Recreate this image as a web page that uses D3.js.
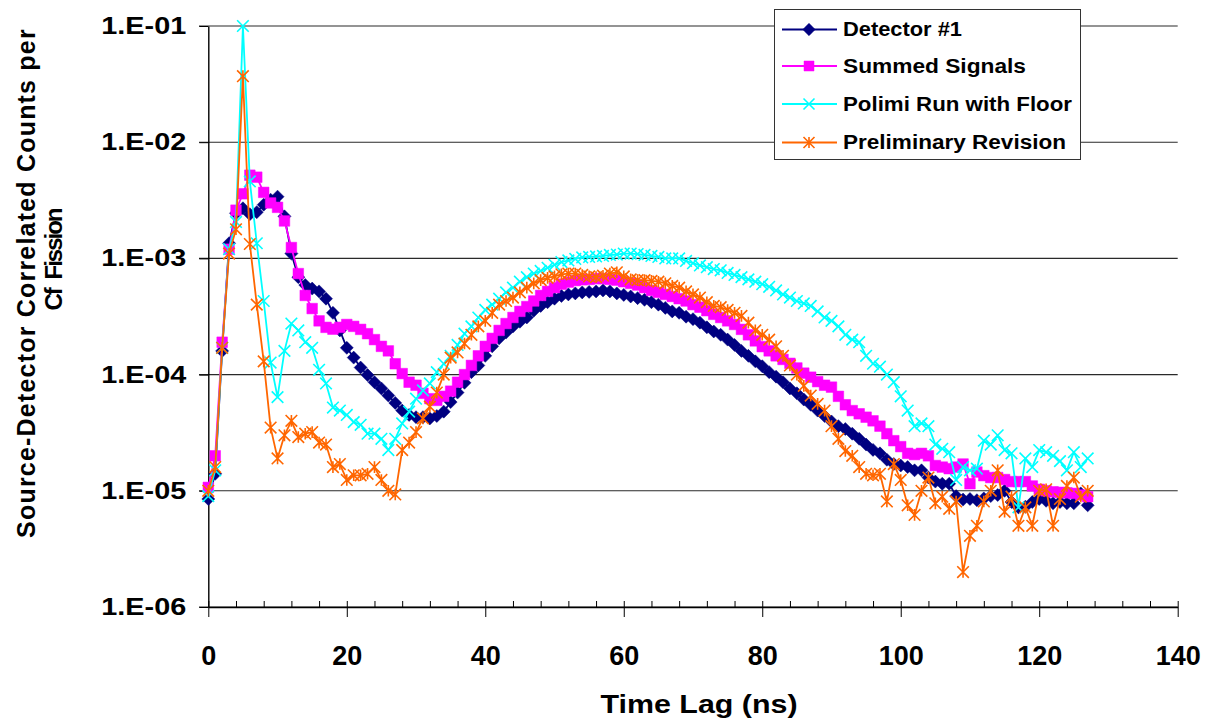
<!DOCTYPE html>
<html>
<head>
<meta charset="utf-8">
<script src="https://cdn.jsdelivr.net/npm/d3@7"></script>
<style>
  body { margin: 0; background: #fff; }
  svg { display: block; font-family: "Liberation Sans", Arial, sans-serif; font-weight: bold; }
</style>
</head>
<body>
<div id="chart"></div>
<script>
// Time lag (ns) for each bin
const timeLag = [
  0, 1, 2, 3, 4, 5, 6, 7, 8, 9, 10, 11, 12, 13, 14, 15, 16, 17, 18, 19,
  20, 21, 22, 23, 24, 25, 26, 27, 28, 29, 30, 31, 32, 33, 34, 35, 36, 37, 38, 39,
  40, 41, 42, 43, 44, 45, 46, 47, 48, 49, 50, 51, 52, 53, 54, 55, 56, 57, 58, 59,
  60, 61, 62, 63, 64, 65, 66, 67, 68, 69, 70, 71, 72, 73, 74, 75, 76, 77, 78, 79,
  80, 81, 82, 83, 84, 85, 86, 87, 88, 89, 90, 91, 92, 93, 94, 95, 96, 97, 98, 99,
  100, 101, 102, 103, 104, 105, 106, 107, 108, 109, 110, 111, 112, 113, 114, 115, 116, 117, 118, 119,
  120, 121, 122, 123, 124, 125, 126, 127
];

const detector1 = [
  8.5e-6, 1.4e-5, 1.6e-4, 1.35e-3, 2.45e-3, 2.7e-3, 2.4e-3, 2.5e-3, 2.9e-3, 3.2e-3,
  3.4e-3, 2.3e-3, 1.1e-3, 6.9e-4, 5.9e-4, 5.5e-4, 5.2e-4, 4.5e-4, 3.4e-4, 2.4e-4,
  1.7e-4, 1.4e-4, 1.15e-4, 9.9e-5, 8.6e-5, 7.6e-5, 6.6e-5, 5.7e-5, 4.9e-5, 4.5e-5,
  4.3e-5, 4.3e-5, 4.2e-5, 4.4e-5, 4.8e-5, 5.8e-5, 7.0e-5, 8.5e-5, 1.05e-4, 1.2e-4,
  1.45e-4, 1.75e-4, 2.05e-4, 2.3e-4, 2.6e-4, 2.85e-4, 3.1e-4, 3.55e-4, 3.9e-4, 4.2e-4,
  4.5e-4, 4.75e-4, 4.9e-4, 5.0e-4, 5.1e-4, 5.15e-4, 5.2e-4, 5.3e-4, 5.2e-4, 5.0e-4,
  4.85e-4, 4.7e-4, 4.55e-4, 4.4e-4, 4.2e-4, 4.0e-4, 3.75e-4, 3.5e-4, 3.4e-4, 3.15e-4,
  3.0e-4, 2.8e-4, 2.55e-4, 2.35e-4, 2.2e-4, 2.0e-4, 1.8e-4, 1.6e-4, 1.45e-4, 1.3e-4,
  1.18e-4, 1.05e-4, 9.6e-5, 8.6e-5, 7.6e-5, 6.9e-5, 6.1e-5, 5.5e-5, 4.9e-5, 4.4e-5,
  3.95e-5, 3.6e-5, 3.4e-5, 3.1e-5, 2.8e-5, 2.5e-5, 2.25e-5, 2.1e-5, 1.85e-5, 1.7e-5,
  1.65e-5, 1.6e-5, 1.5e-5, 1.5e-5, 1.3e-5, 1.2e-5, 1.15e-5, 1.15e-5, 9.0e-6, 8.4e-6,
  8.5e-6, 8.3e-6, 8.6e-6, 9.0e-6, 9.2e-6, 1.0e-5, 8.0e-6, 7.2e-6, 7.3e-6, 8.0e-6,
  8.5e-6, 8.2e-6, 7.8e-6, 8.0e-6, 7.8e-6, 7.8e-6, 9.5e-6, 7.5e-6
];

const summedSignals = [
  1.07e-5, 2.0e-5, 1.9e-4, 1.2e-3, 2.6e-3, 3.6e-3, 5.2e-3, 5.0e-3, 3.7e-3, 3.0e-3,
  2.75e-3, 2.1e-3, 1.24e-3, 7.4e-4, 4.8e-4, 3.7e-4, 2.9e-4, 2.55e-4, 2.46e-4, 2.55e-4,
  2.7e-4, 2.6e-4, 2.45e-4, 2.25e-4, 2.0e-4, 1.75e-4, 1.6e-4, 1.24e-4, 1.02e-4, 8.6e-5,
  8.1e-5, 6.9e-5, 6.2e-5, 6.0e-5, 6.5e-5, 7.2e-5, 8.6e-5, 1.0e-4, 1.2e-4, 1.45e-4,
  1.75e-4, 2.05e-4, 2.4e-4, 2.75e-4, 3.1e-4, 3.5e-4, 3.85e-4, 4.3e-4, 4.8e-4, 5.2e-4,
  5.6e-4, 6.0e-4, 6.25e-4, 6.45e-4, 6.55e-4, 6.6e-4, 6.7e-4, 6.7e-4, 6.6e-4, 6.5e-4,
  6.3e-4, 6.1e-4, 5.9e-4, 5.6e-4, 5.3e-4, 5.1e-4, 4.9e-4, 4.7e-4, 4.5e-4, 4.3e-4,
  4.0e-4, 3.8e-4, 3.55e-4, 3.3e-4, 3.1e-4, 2.9e-4, 2.7e-4, 2.45e-4, 2.2e-4, 1.95e-4,
  1.74e-4, 1.6e-4, 1.45e-4, 1.35e-4, 1.25e-4, 1.14e-4, 1.03e-4, 9.5e-5, 8.7e-5, 8.1e-5,
  7.8e-5, 6.5e-5, 5.5e-5, 4.9e-5, 4.6e-5, 4.3e-5, 4.0e-5, 3.6e-5, 3.1e-5, 2.7e-5,
  2.4e-5, 2.1e-5, 2.05e-5, 2.1e-5, 2.0e-5, 1.65e-5, 1.6e-5, 1.55e-5, 1.6e-5, 1.7e-5,
  1.15e-5, 1.45e-5, 1.35e-5, 1.3e-5, 1.3e-5, 1.25e-5, 1.2e-5, 1.2e-5, 1.2e-5, 1.1e-5,
  1.03e-5, 1.0e-5, 9.8e-6, 9.7e-6, 9.6e-6, 9.5e-6, 9.2e-6, 8.9e-6
];

const polimiFloor = [
  9.0e-6, 1.5e-5, 1.7e-4, 1.2e-3, 2.06e-3, 1.0e-1, 4.6e-3, 1.35e-3, 4.3e-4, 1.27e-4,
  6.4e-5, 1.6e-4, 2.75e-4, 2.4e-4, 1.9e-4, 1.7e-4, 1.1e-4, 8.4e-5, 5.2e-5, 4.9e-5,
  4.5e-5, 3.9e-5, 3.7e-5, 3.1e-5, 3.1e-5, 2.8e-5, 2.24e-5, 2.8e-5, 3.8e-5, 4.8e-5,
  6.2e-5, 7.3e-5, 8.4e-5, 1.05e-4, 1.24e-4, 1.45e-4, 1.8e-4, 2.25e-4, 2.6e-4, 3.1e-4,
  3.6e-4, 4.0e-4, 4.5e-4, 5.1e-4, 5.6e-4, 6.3e-4, 6.9e-4, 7.4e-4, 7.8e-4, 8.3e-4,
  8.8e-4, 9.3e-4, 9.6e-4, 9.9e-4, 1.02e-3, 1.03e-3, 1.04e-3, 1.05e-3, 1.07e-3, 1.08e-3,
  1.1e-3, 1.1e-3, 1.09e-3, 1.07e-3, 1.05e-3, 1.03e-3, 1.0e-3, 1.0e-3, 1.0e-3, 9.5e-4,
  9.1e-4, 8.7e-4, 8.4e-4, 8.1e-4, 7.9e-4, 7.5e-4, 7.2e-4, 6.9e-4, 6.6e-4, 6.3e-4,
  6.0e-4, 5.7e-4, 5.3e-4, 4.9e-4, 4.6e-4, 4.3e-4, 4.1e-4, 3.9e-4, 3.5e-4, 3.1e-4,
  2.9e-4, 2.6e-4, 2.2e-4, 2.0e-4, 1.9e-4, 1.45e-4, 1.24e-4, 1.17e-4, 1.0e-4, 8.6e-5,
  6.5e-5, 4.9e-5, 3.6e-5, 3.8e-5, 3.6e-5, 2.5e-5, 2.3e-5, 2.15e-5, 1.24e-5, 1.6e-5,
  1.5e-5, 1.55e-5, 2.7e-5, 2.5e-5, 3.0e-5, 2.24e-5, 2.1e-5, 7.2e-6, 1.9e-5, 1.6e-5,
  2.24e-5, 2.15e-5, 2.0e-5, 1.8e-5, 1.5e-5, 2.15e-5, 1.6e-5, 1.9e-5
];

const prelimRevision = [
  1.0e-5, 1.6e-5, 1.7e-4, 1.1e-3, 1.78e-3, 3.7e-2, 1.33e-3, 4.0e-4, 1.3e-4, 3.5e-5,
  1.9e-5, 3.0e-5, 4.0e-5, 2.9e-5, 3.1e-5, 3.2e-5, 2.6e-5, 2.5e-5, 1.6e-5, 1.7e-5,
  1.24e-5, 1.36e-5, 1.36e-5, 1.4e-5, 1.6e-5, 1.24e-5, 1.0e-5, 9.3e-6, 2.24e-5, 2.6e-5,
  3.2e-5, 4.2e-5, 5.3e-5, 7.0e-5, 1.0e-4, 1.4e-4, 1.55e-4, 1.85e-4, 2.2e-4, 2.6e-4,
  2.9e-4, 3.4e-4, 4.0e-4, 4.3e-4, 4.6e-4, 5.1e-4, 5.6e-4, 6.1e-4, 6.5e-4, 6.8e-4,
  7.0e-4, 7.3e-4, 7.4e-4, 7.4e-4, 7.2e-4, 7.0e-4, 6.9e-4, 7.1e-4, 7.4e-4, 7.6e-4,
  7.0e-4, 6.6e-4, 6.5e-4, 6.5e-4, 6.4e-4, 6.3e-4, 6.1e-4, 5.8e-4, 5.6e-4, 5.2e-4,
  4.9e-4, 4.6e-4, 4.2e-4, 3.9e-4, 3.8e-4, 3.6e-4, 3.4e-4, 3.2e-4, 2.8e-4, 2.4e-4,
  2.2e-4, 2.0e-4, 1.75e-4, 1.45e-4, 1.2e-4, 1.0e-4, 8.0e-5, 6.6e-5, 5.6e-5, 4.9e-5,
  3.6e-5, 2.8e-5, 2.2e-5, 2.0e-5, 1.6e-5, 1.4e-5, 1.36e-5, 1.4e-5, 8.1e-6, 1.7e-5,
  1.24e-5, 7.5e-6, 6.2e-6, 1.0e-5, 1.3e-5, 7.8e-6, 8.9e-6, 7.0e-6, 8.1e-6, 2.0e-6,
  4.1e-6, 5.0e-6, 8.1e-6, 1.0e-5, 1.5e-5, 6.6e-6, 8.9e-6, 5.0e-6, 7.2e-6, 5.0e-6,
  1.0e-5, 1.03e-5, 5.0e-6, 8.5e-6, 1.1e-5, 1.3e-5, 8.9e-6, 1.0e-5
];

const seriesNames = ["Detector #1", "Summed Signals", "Polimi Run with Floor", "Preliminary Revision"];
const xTickValues = [0, 20, 40, 60, 80, 100, 120, 140];
const xMinorTickValues = [4, 8, 12, 16, 24, 28, 32, 36, 44, 48, 52, 56, 64, 68, 72, 76,
  84, 88, 92, 96, 104, 108, 112, 116, 124, 128, 132, 136];
const yTickValues = [1e-1, 1e-2, 1e-3, 1e-4, 1e-5, 1e-6];
const yTickLabels = ["1.E-01", "1.E-02", "1.E-03", "1.E-04", "1.E-05", "1.E-06"];

(function () {
  "use strict";

  const width = 1209;
  const height = 725;

  const svg = d3.select("#chart")
    .append("svg")
    .attr("width", width)
    .attr("height", height);

  const x = d3.scaleLinear().domain([0, 140]).range([208.3, 1177.7]);
  const y = d3.scaleLog().domain([1e-6, 1e-1]).range([607, 26]);

  // horizontal gridlines
  svg.append("g")
    .selectAll("line")
    .data(yTickValues)
    .join("line")
    .attr("x1", 199)
    .attr("x2", x(140))
    .attr("y1", (d) => y(d))
    .attr("y2", (d) => y(d))
    .attr("stroke", "#2a2a2a")
    .attr("stroke-width", 1.1);

  // y axis
  const yAxis = svg.append("g")
    .attr("transform", `translate(${x(0)},0)`)
    .call(d3.axisLeft(y).tickValues(yTickValues).tickSize(9).tickSizeOuter(0)
      .tickFormat((d, i) => yTickLabels[i]));
  yAxis.select(".domain").attr("stroke", "#000").attr("stroke-width", 1.4);
  yAxis.selectAll(".tick line").attr("stroke", "#000");
  yAxis.selectAll(".tick text")
    .attr("x", -22)
    .attr("dy", "0.33em")
    .attr("fill", "#000")
    .style("font-size", "23px")
    .style("font-family", "'Liberation Sans', Arial, sans-serif")
    .style("font-weight", "bold")
    .attr("textLength", 85)
    .attr("lengthAdjust", "spacingAndGlyphs");

  // x axis, major + minor ticks
  const xAxis = svg.append("g")
    .attr("transform", `translate(0,${y(1e-6)})`)
    .call(d3.axisBottom(x).tickValues(xTickValues).tickSize(10).tickSizeOuter(0));
  xAxis.select(".domain").attr("stroke", "#000").attr("stroke-width", 1.4);
  xAxis.selectAll(".tick line").attr("y1", -6).attr("stroke", "#000");
  xAxis.selectAll(".tick text")
    .attr("y", 58)
    .attr("dy", 0)
    .attr("fill", "#000")
    .style("font-size", "27px")
    .style("font-family", "'Liberation Sans', Arial, sans-serif")
    .style("font-weight", "bold");

  const xMinor = svg.append("g")
    .attr("transform", `translate(0,${y(1e-6)})`)
    .call(d3.axisBottom(x).tickValues(xMinorTickValues).tickSize(-6).tickFormat(""));
  xMinor.select(".domain").remove();
  xMinor.selectAll(".tick line").attr("stroke", "#000");

  // axis titles
  svg.append("text")
    .attr("x", 699)
    .attr("y", 713)
    .attr("text-anchor", "middle")
    .attr("textLength", 197)
    .attr("lengthAdjust", "spacingAndGlyphs")
    .style("font-size", "25px")
    .text("Time Lag (ns)");

  // rotated y title: letter-spacing keeps glyphs crisp (non-uniform scale renders thin)
  svg.append("text")
    .attr("transform", "translate(35,283) rotate(-90)")
    .attr("text-anchor", "middle")
    .style("font-size", "25px")
    .style("letter-spacing", "1.2px")
    .text("Source-Detector Correlated Counts per");

  svg.append("text")
    .attr("transform", "translate(62,260) rotate(-90)")
    .attr("text-anchor", "middle")
    .style("font-size", "24px")
    .style("letter-spacing", "-2px")
    .style("word-spacing", "5px")
    .text("Cf Fission");

  // marker shapes (Excel-like)
  const markerPaths = {
    diamond: (s) => `M0,${-s}L${s},0L0,${s}L${-s},0Z`,
    square: (s) => `M${-s},${-s}H${s}V${s}H${-s}Z`,
    cross: (s) => `M${-s},${-s}L${s},${s}M${-s},${s}L${s},${-s}`,
    star: (s) => `M${-s},${-s}L${s},${s}M${-s},${s}L${s},${-s}M0,${-s}V${s}`,
  };

  const series = [
    { name: seriesNames[0], values: detector1, color: "#000080", marker: "diamond", size: 6.5, filled: true },
    { name: seriesNames[1], values: summedSignals, color: "#ff00ff", marker: "square", size: 5.3, filled: true },
    { name: seriesNames[2], values: polimiFloor, color: "#00ffff", marker: "cross", size: 5.8, filled: false },
    { name: seriesNames[3], values: prelimRevision, color: "#ff6600", marker: "star", size: 5.8, filled: false },
  ];

  const line = d3.line()
    .x((d) => x(d[0]))
    .y((d) => y(d[1]));

  series.forEach((s) => {
    const pts = timeLag.map((t, i) => [t, s.values[i]]);
    const g = svg.append("g");

    g.append("path")
      .datum(pts)
      .attr("d", line)
      .attr("fill", "none")
      .attr("stroke", s.color)
      .attr("stroke-width", 1.8)
      .attr("stroke-linejoin", "round");

    g.selectAll("path.marker")
      .data(pts)
      .join("path")
      .attr("class", "marker")
      .attr("transform", (d) => `translate(${x(d[0])},${y(d[1])})`)
      .attr("d", markerPaths[s.marker](s.size))
      .attr("fill", s.filled ? s.color : "none")
      .attr("stroke", s.color)
      .attr("stroke-width", s.filled ? 0.5 : 1.6);
  });

  // legend
  const legend = svg.append("g");
  legend.append("rect")
    .attr("x", 774.5)
    .attr("y", 9.5)
    .attr("width", 306)
    .attr("height", 150)
    .attr("fill", "#fff")
    .attr("stroke", "#333")
    .attr("stroke-width", 1);

  const legendRowY = [29.5, 66, 104, 142.5];
  const legendTextLen = [119, 183, 229, 223];

  series.forEach((s, i) => {
    const ly = legendRowY[i];
    legend.append("line")
      .attr("x1", 782).attr("x2", 837)
      .attr("y1", ly).attr("y2", ly)
      .attr("stroke", s.color)
      .attr("stroke-width", 1.8);
    legend.append("path")
      .attr("transform", `translate(809,${ly})`)
      .attr("d", markerPaths[s.marker](s.size - 0.3))
      .attr("fill", s.filled ? s.color : "none")
      .attr("stroke", s.color)
      .attr("stroke-width", s.filled ? 0.5 : 1.6);
    legend.append("text")
      .attr("x", 843)
      .attr("y", ly + 6.5)
      .attr("textLength", legendTextLen[i])
      .attr("lengthAdjust", "spacingAndGlyphs")
      .style("font-size", "20px")
      .text(s.name);
  });
})();
</script>
</body>
</html>
